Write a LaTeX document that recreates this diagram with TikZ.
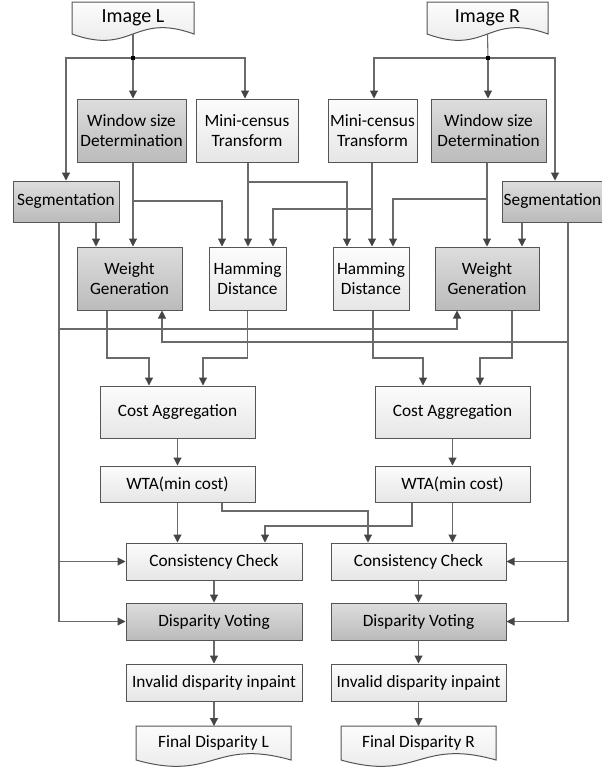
\documentclass[tikz,border=0pt]{standalone}
\usepackage{fontspec}
\setmainfont{Carlito}
\usetikzlibrary{arrows.meta,calc}
\definecolor{lc}{HTML}{6A6A6A}
\definecolor{ah}{HTML}{454545}
\definecolor{bd}{HTML}{555555}
\definecolor{lt1}{HTML}{FCFCFC}
\definecolor{lt2}{HTML}{E6E6E6}
\definecolor{gr1}{HTML}{DDDDDD}
\definecolor{gr2}{HTML}{BBBBBB}
\newcommand\fnt{\fontsize{17.3}{20.5}\selectfont}
\newcommand\bigfnt{\fontsize{20}{24}\selectfont}
\tikzset{
  box/.style={draw=bd, line width=1pt, inner sep=0pt, align=center, font=\fnt, text=black},
  lbox/.style={box, top color=lt1, bottom color=lt2},
  gbox/.style={box, top color=gr1, bottom color=gr2},
  ln/.style={draw=lc, line width=1.1pt},
  arr/.style={ln, -{Triangle[length=8pt,width=8pt,color=ah]}},
}
\newcommand\docshape[6]{%
  \path[draw=bd, line width=1pt, top color=lt1, bottom color=lt2]
    (#2,#4) -- (#3,#4) -- (#3,#5)
    .. controls ({(#2+#3)/2},{#5-22}) and ({(#2+#3)/2},{#5+22}) .. (#2,#5) -- cycle;
  \node[font=\fnt, inner sep=0pt, text=black] (#1) at ({(#2+#3)/2},{(#4+#5)/2}) {#6};
  \coordinate (#1b) at ({(#2+#3)/2},#5);
  \coordinate (#1t) at ({(#2+#3)/2},#4);
}
\begin{document}
\begin{tikzpicture}[x=1pt,y=-1pt]
\clip (0,0) rectangle (602,769);
\fill[white] (0,0) rectangle (602,769);

% documents
\docshape{imgL}{72}{194}{2}{34}{\bigfnt Image L}
\docshape{imgR}{427}{548}{2}{34}{\bigfnt Image R}
\docshape{finL}{136}{291}{726}{760}{Final Disparity L}
\docshape{finR}{341}{496}{726}{760}{Final Disparity R}

% boxes
\node[gbox, minimum width=109pt, minimum height=63pt] (winL) at (131.5,130.5) {Window size\\Determination};
\node[lbox, minimum width=102pt, minimum height=63pt] (miniL) at (247,130.5) {Mini-census\\Transform};
\node[lbox, minimum width=89pt, minimum height=63pt] (miniR) at (372.5,130.5) {Mini-census\\Transform};
\node[gbox, minimum width=115pt, minimum height=63pt] (winR) at (488.5,130.5) {Window size\\Determination};
\node[gbox, minimum width=106pt, minimum height=41pt] (segL) at (66,201.5) {Segmentation};
\node[gbox, minimum width=106pt, minimum height=41pt] (segR) at (555,201.5) {};
\node[font=\fnt, inner sep=0pt, text=black] (segRt) at (552.5,201.5) {Segmentation};
\node[gbox, minimum width=105pt, minimum height=63pt] (wgtL) at (129.5,278.5) {Weight\\Generation};
\node[lbox, minimum width=77pt, minimum height=63pt] (hamL) at (247.5,278.5) {Hamming\\Distance};
\node[lbox, minimum width=76pt, minimum height=63pt] (hamR) at (371,278.5) {Hamming\\Distance};
\node[gbox, minimum width=104pt, minimum height=63pt] (wgtR) at (487,278.5) {Weight\\Generation};
\node[lbox, minimum width=155pt, minimum height=52pt] (costL) at (177.5,412) {Cost Aggregation};
\node[lbox, minimum width=155pt, minimum height=52pt] (costR) at (452.5,412) {Cost Aggregation};
\node[lbox, minimum width=155pt, minimum height=36pt] (wtaL) at (177.5,484) {WTA(min cost)};
\node[lbox, minimum width=155pt, minimum height=36pt] (wtaR) at (452.5,484) {WTA(min cost)};
\node[lbox, minimum width=176pt, minimum height=37pt] (conL) at (214,561.5) {Consistency Check};
\node[lbox, minimum width=175pt, minimum height=37pt] (conR) at (418.5,561.5) {Consistency Check};
\node[gbox, minimum width=176pt, minimum height=37pt] (dvL) at (214,621.5) {Disparity Voting};
\node[gbox, minimum width=175pt, minimum height=37pt] (dvR) at (418.5,621.5) {Disparity Voting};
\node[lbox, minimum width=176pt, minimum height=37pt] (invL) at (214,682.5) {Invalid disparity inpaint};
\node[lbox, minimum width=175pt, minimum height=37pt] (invR) at (418.5,682.5) {Invalid disparity inpaint};

% column coordinates
\coordinate (cA) at (222,0);
\coordinate (cB) at (248,0);
\coordinate (cC) at (273,0);
\coordinate (cD) at (347,0);
\coordinate (cE) at (372,0);
\coordinate (cF) at (393,0);
\coordinate (cG) at (96,0);
\coordinate (cH) at (59,0);
\coordinate (cI) at (522,0);
\coordinate (cJ) at (568,0);
\coordinate (cK) at (162,0);
\coordinate (cL) at (457,0);
\coordinate (cWR) at (487,0);

% splits at the images
\coordinate (sL) at (133,58);
\coordinate (sR) at (488,58);
\draw[ln] (imgLb) -- (sL);
\draw[arr] (sL) -| (segL.north);
\draw[arr] (sL) -- (sL |- winL.north);
\draw[arr] (sL) -| ([xshift=-2pt]miniL.north);
\draw[ln] (imgRb) -- (sR);
\draw[arr] (sR) -| ([xshift=1.5pt]miniR.north);
\draw[arr] (sR) -- (sR |- winR.north);
\draw[arr] (sR) -| (segR.north);
\fill[black] (sL) +(-1.8,-1.8) rectangle +(1.8,1.8);
\fill[black] (sR) +(-1.8,-1.8) rectangle +(1.8,1.8);

% window size / census to weight / hamming
\draw[arr] (sL |- winL.south) -- (sL |- wgtL.north);
\coordinate (jWL) at (133,201);
\draw[arr] (jWL) -| (cA |- hamL.north);
\draw[arr] (cB |- miniL.south) -- (cB |- hamL.north);
\coordinate (jML) at (248,182);
\draw[arr] (jML) -| (cD |- hamR.north);
\draw[arr] (cE |- miniR.south) -- (cE |- hamR.north);
\coordinate (jMR) at (372,209);
\draw[arr] (jMR) -| (cC |- hamL.north);
\draw[arr] (cWR |- winR.south) -- (cWR |- wgtR.north);
\coordinate (jWR) at (487,199);
\draw[arr] (jWR) -| (cF |- hamR.north);

% segmentation lines
\draw[arr] (cG |- segL.south) -- (cG |- wgtL.north);
\draw[arr] (cH |- segL.south) |- (dvL.west);
\coordinate (jSL1) at (59,329);
\draw[arr] (jSL1) -| (cL |- wgtR.south);
\coordinate (jSL2) at (59,561.5);
\draw[arr] (jSL2) -- (conL.west);
\draw[arr] (cI |- segR.south) -- (cI |- wgtR.north);
\draw[arr] (cJ |- segR.south) |- (dvR.east);
\coordinate (jSR1) at (568,342);
\draw[arr] (jSR1) -| (cK |- wgtL.south);
\coordinate (jSR2) at (568,561.5);
\draw[arr] (jSR2) -- (conR.east);

% to cost aggregation
\coordinate (mWL) at (149,358);
\coordinate (mHL) at (203,358);
\coordinate (mHR) at (423,358);
\coordinate (mWR) at (480,358);
\draw[arr] ([xshift=-22.5pt]wgtL.south) |- (mWL) -- (mWL |- costL.north);
\draw[arr] (hamL.south) |- (mHL) -- (mHL |- costL.north);
\draw[arr] ([xshift=2pt]hamR.south) |- (mHR) -- (mHR |- costR.north);
\draw[arr] ([xshift=25pt]wgtR.south) |- (mWR) -- (mWR |- costR.north);

% cost -> WTA -> consistency
\draw[arr] (costL.south) -- (wtaL.north);
\draw[arr] (costR.south) -- (wtaR.north);
\draw[arr] (wtaL.south) -- (wtaL.south |- conL.north);
\draw[arr] (wtaR.south) -- (wtaR.south |- conR.north);
\coordinate (mX1) at (368,511);
\coordinate (mX2) at (265,526);
\draw[arr] ([xshift=44.5pt]wtaL.south) |- (mX1) -- (mX1 |- conR.north);
\draw[arr] ([xshift=-40.5pt]wtaR.south) |- (mX2) -- (mX2 |- conL.north);

% bottom chain
\draw[arr] (conL.south) -- (dvL.north);
\draw[arr] (dvL.south) -- (invL.north);
\draw[arr] (invL.south) -- (invL.south |- finLt);
\draw[arr] (conR.south) -- (dvR.north);
\draw[arr] (dvR.south) -- (invR.north);
\draw[arr] (invR.south) -- (invR.south |- finRt);
\end{tikzpicture}
\end{document}
